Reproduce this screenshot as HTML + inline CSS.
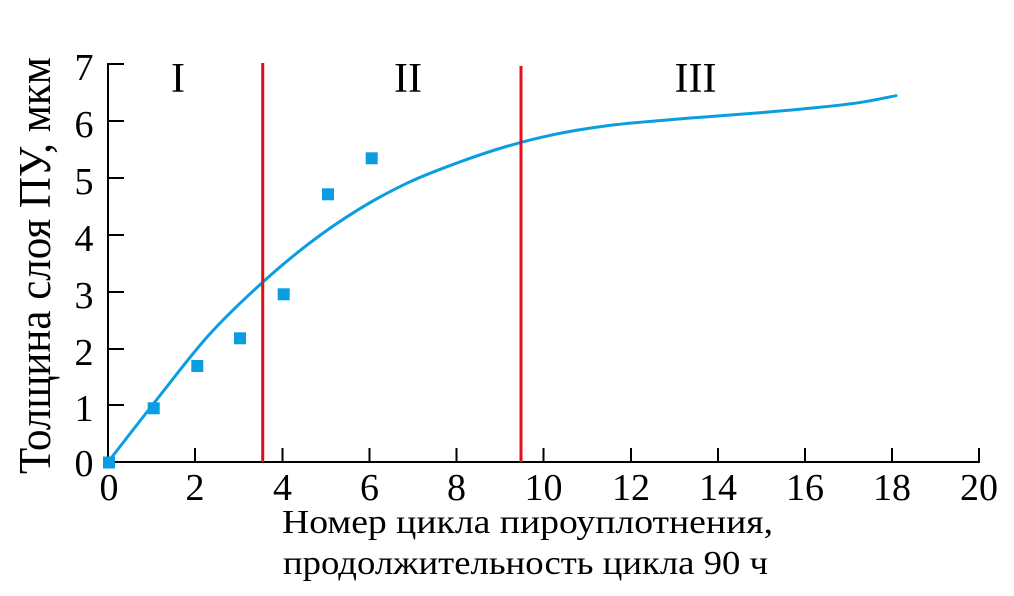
<!DOCTYPE html>
<html>
<head>
<meta charset="utf-8">
<style>
  html, body { margin: 0; padding: 0; background: #ffffff; }
  body { width: 1014px; height: 596px; overflow: hidden; }
  svg { display: block; }
  text { font-family: "Liberation Serif", "DejaVu Serif", serif; fill: #000; }
</style>
</head>
<body>
<svg width="1014" height="596" viewBox="0 0 1014 596" xmlns="http://www.w3.org/2000/svg">
  <rect x="0" y="0" width="1014" height="596" fill="#ffffff"/>

  <!-- Axes -->
  <g stroke="#000" stroke-width="2" fill="none">
    <line x1="108" y1="63" x2="108" y2="463"/>
    <line x1="107" y1="462" x2="980" y2="462"/>
    <!-- y ticks -->
    <line x1="108" y1="64" x2="124" y2="64"/>
    <line x1="108" y1="121" x2="124" y2="121"/>
    <line x1="108" y1="178" x2="124" y2="178"/>
    <line x1="108" y1="235" x2="124" y2="235"/>
    <line x1="108" y1="292" x2="124" y2="292"/>
    <line x1="108" y1="349" x2="124" y2="349"/>
    <line x1="108" y1="405" x2="124" y2="405"/>
    <!-- x ticks -->
    <line x1="195" y1="462" x2="195" y2="448"/>
    <line x1="282.5" y1="462" x2="282.5" y2="448"/>
    <line x1="369.5" y1="462" x2="369.5" y2="448"/>
    <line x1="456.5" y1="462" x2="456.5" y2="448"/>
    <line x1="543.5" y1="462" x2="543.5" y2="448"/>
    <line x1="631" y1="462" x2="631" y2="448"/>
    <line x1="718" y1="462" x2="718" y2="448"/>
    <line x1="805" y1="462" x2="805" y2="448"/>
    <line x1="892" y1="462" x2="892" y2="448"/>
    <line x1="979" y1="462" x2="979" y2="448"/>
  </g>

  <!-- Y tick labels -->
  <g font-family="'Liberation Serif', 'DejaVu Serif', serif" font-size="38" text-anchor="middle">
    <text x="84" y="80">7</text>
    <text x="84" y="137">6</text>
    <text x="84" y="194">5</text>
    <text x="84" y="251">4</text>
    <text x="84" y="308">3</text>
    <text x="84" y="365">2</text>
    <text x="84" y="421">1</text>
    <text x="84" y="476">0</text>
  </g>

  <!-- X tick labels -->
  <g font-family="'Liberation Serif', 'DejaVu Serif', serif" font-size="38" text-anchor="middle">
    <text x="109" y="500">0</text>
    <text x="195" y="500">2</text>
    <text x="282.5" y="500">4</text>
    <text x="369.5" y="500">6</text>
    <text x="456.5" y="500">8</text>
    <text x="543.5" y="500">10</text>
    <text x="631" y="500">12</text>
    <text x="718" y="500">14</text>
    <text x="805" y="500">16</text>
    <text x="892" y="500">18</text>
    <text x="979" y="500">20</text>
  </g>

  <!-- Axis titles -->
  <g font-family="'Liberation Serif', 'DejaVu Serif', serif">
    <text x="282" y="533" font-size="34" textLength="491" lengthAdjust="spacingAndGlyphs">Номер цикла пироуплотнения,</text>
    <text x="283" y="574" font-size="34" textLength="485" lengthAdjust="spacingAndGlyphs">продолжительность цикла 90 ч</text>
    <text transform="translate(50,474) rotate(-90)" font-size="45" textLength="417" lengthAdjust="spacingAndGlyphs">Толщина слоя ПУ, мкм</text>
  </g>

  <!-- Region labels -->
  <g font-family="'Liberation Serif', 'DejaVu Serif', serif" font-size="42" text-anchor="middle">
    <text x="178" y="92">I</text>
    <text x="408" y="92">II</text>
    <text x="695.5" y="92">III</text>
  </g>

  <!-- Fitted curve -->
  <path d="M108,462
           C124.67,440.67 141.33,419 158,398
           C174.67,377 191.33,354.58 208,336
           C224.67,317.42 241.33,301.78 258,286.5
           C274.67,271.22 291.33,257.08 308,244.3
           C324.67,231.52 341.33,220.07 358,209.8
           C374.67,199.53 391.33,190.57 408,182.7
           C424.67,174.83 441.33,168.72 458,162.6
           C474.67,156.48 491.33,150.82 508,146
           C524.67,141.18 541.33,137.1 558,133.7
           C574.67,130.3 591.33,127.77 608,125.6
           C624.67,123.43 641.33,122.18 658,120.7
           C674.67,119.22 691.33,118 708,116.7
           C724.67,115.4 741.33,114.28 758,112.9
           C774.67,111.52 791.33,110.08 808,108.4
           C824.67,106.72 841.33,105.21 858,102.8
           C870.67,100.97 883.33,98.07 896,95.7"
        fill="none" stroke="#0a9ddf" stroke-width="3" stroke-linecap="round" stroke-linejoin="round"/>

  <!-- Red boundaries -->
  <line x1="262.7" y1="63" x2="262.7" y2="462" stroke="#e3101b" stroke-width="3"/>
  <line x1="521" y1="66" x2="521" y2="462" stroke="#e3101b" stroke-width="3"/>

  <!-- Data markers -->
  <g fill="#0a9ddf">
    <rect x="103" y="456.5" width="12" height="12"/>
    <rect x="147.7" y="402.3" width="12" height="12"/>
    <rect x="191.3" y="360" width="12" height="12"/>
    <rect x="234" y="332.3" width="12" height="12"/>
    <rect x="277.7" y="288.3" width="12" height="12"/>
    <rect x="322" y="188.3" width="12" height="12"/>
    <rect x="365.7" y="152.3" width="12" height="12"/>
  </g>
</svg>
</body>
</html>
